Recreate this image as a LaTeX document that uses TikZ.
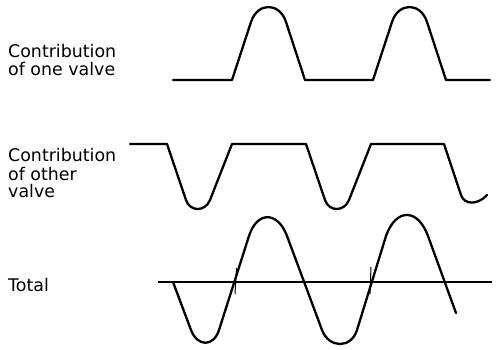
\documentclass[tikz,border=0pt]{standalone}
\usepackage{fontspec}
\setmainfont{DejaVu Sans}
\begin{document}
\begin{tikzpicture}[x=1pt,y=-1pt,
  lbl/.style={anchor=base west,inner sep=0pt,font=\fontsize{17.4}{20}\selectfont},
  wave/.style={line width=2.3pt,line join=round,line cap=round},
  axisline/.style={line width=1.2pt},
  tickmark/.style={line width=1pt}]
\useasboundingbox (0,0) rectangle (496,349);
% labels
\node[lbl] (l1a) at (8,57) {Contribution};
\node[lbl] (l1b) at (8,75.5) {of one valve};
\node[lbl] (l2a) at (8,161.7) {Contribution};
\node[lbl] (l2b) at (8,180) {of other};
\node[lbl] (l2c) at (8,197.5) {valve};
\node[lbl] (l3) at (8,291) {Total};
% top wave
\draw[wave] (173,80) -- (232,80) -- (251,22) .. controls (257.5,2) and (279.5,2) .. (286,22) -- (305,80)
  -- (373,80) -- (392,22) .. controls (398.5,2) and (420.5,2) .. (427,22) -- (446,80) -- (490,80);
% middle wave
\draw[wave] (130,144) -- (167,144) -- (186,200) .. controls (190.1,212.1) and (205.3,211.9) .. (210,200) -- (232,144)
  -- (306,144) -- (325,200) .. controls (329.1,212.1) and (344.3,211.9) .. (349,200) -- (371,144)
  -- (444,144) -- (461,195) .. controls (464.4,205.2) and (478,205) .. (487,195);
% axis
\coordinate (axL) at (158,282);
\coordinate (axR) at (492,282);
\draw[axisline] (axL) -- (axR);
% ticks
\coordinate (t1a) at (236.5,268);
\coordinate (t1b) at (235,294);
\coordinate (t2a) at (371,267);
\coordinate (t2b) at (370,294);
\draw[tickmark] (t1a) -- (t1b);
\draw[tickmark] (t2a) -- (t2b);
% total wave
\draw[wave] (173,282) -- (191,330) .. controls (197.3,346.8) and (213.6,347.2) .. (219,330)
  -- (249,236) .. controls (257.1,210.7) and (277.7,211.1) .. (287,236)
  -- (322,330) .. controls (328.9,348.5) and (351.2,348.8) .. (357,330)
  -- (386,236) .. controls (396,207.9) and (417.7,208) .. (428,236)
  -- (456,313);
\end{tikzpicture}
\end{document}
